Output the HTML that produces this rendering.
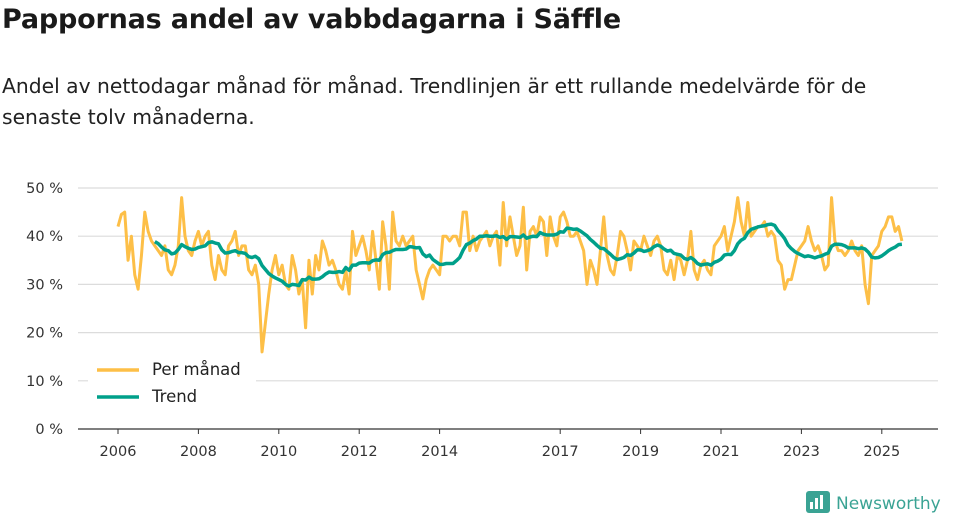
<!DOCTYPE html>
<html><head><meta charset="utf-8">
<style>
body{margin:0;background:#fff;width:960px;height:520px;overflow:hidden;font-family:"DejaVu Sans","Liberation Sans",sans-serif;color:#1a1a1a}
#title{position:absolute;left:2px;top:4px;font-size:27px;font-weight:bold;margin:0;letter-spacing:-0.2px}
#sub{position:absolute;left:2px;top:71px;font-size:20.3px;line-height:31px;width:935px;margin:0;color:#222}
svg{position:absolute;left:0;top:0}
svg text{font-family:"DejaVu Sans","Liberation Sans",sans-serif}
</style></head><body>
<h1 id="title">Pappornas andel av vabbdagarna i Säffle</h1>
<p id="sub">Andel av nettodagar månad för månad. Trendlinjen är ett rullande medelvärde för de senaste tolv månaderna.</p>
<svg id="chart" width="960" height="520"></svg>
<script>
const startYear = 2006;
const monthly = [
42,44.5,45,35,40,32,29,36,45,41,39,38,
37,36,38,33,32,34,38,48,40,37,36,39,
41,38,40,41,34,31,36,33,32,38,39,41,
36,38,38,33,32,34,30,16,22,28,33,36,
32,34,30,29,36,33,28,31,21,35,28,36,
33,39,37,34,35,33,30,29,33,28,41,36,
38,40,37,33,41,35,29,43,38,29,45,39,
38,40,38,39,40,33,30,27,31,33,34,33,
32,40,40,39,40,40,38,45,45,37,40,37,
39,40,41,38,40,41,34,47,38,44,40,36,
38,46,33,41,42,40,44,43,36,44,40,38,
44,45,43,40,40,41,39,37,30,35,33,30,
37,44,36,33,32,36,41,40,37,33,39,38,
37,40,38,36,39,40,38,33,32,35,31,36,
35,32,35,41,33,31,34,35,33,32,38,39,
40,42,37,40,43,48,43,40,47,40,41,42,
42,43,40,41,40,35,34,29,31,31,34,37,
38,39,42,39,37,38,36,33,34,48,39,37,
37,36,37,39,37,36,38,30,26,36,37,38,
41,42,44,44,41,42,39];
const yTicks = [0,10,20,30,40,50];
const xTickYears = [2006,2008,2010,2012,2014,2017,2019,2021,2023,2025];

const NS="http://www.w3.org/2000/svg";
const svg=document.getElementById('chart');
const X0=78,X1=938,Y0=429;
function xs(t){return 118+(t-2006)*40.2;}
function ys(v){return Y0-v*4.82;}
function mk(tag,attrs,parent){const e=document.createElementNS(NS,tag);for(const k in attrs)e.setAttribute(k,attrs[k]);(parent||svg).appendChild(e);return e;}

yTicks.forEach(v=>{
  if(v>0){const g=mk('line',{x1:X0,x2:X1,y1:ys(v),y2:ys(v),stroke:'#dcdcdc','stroke-width':1.2});
  
  }
  const t=mk('text',{x:63,y:ys(v)+5,'text-anchor':'end','font-size':14.5,fill:'#333'});
  t.textContent=v+' %';
  
  
});
const ax=mk('line',{x1:X0,x2:X1,y1:Y0,y2:Y0,stroke:'#333','stroke-width':1.2});


xTickYears.forEach(yr=>{
  mk('line',{x1:xs(yr),x2:xs(yr),y1:Y0,y2:Y0+5,stroke:'#333'});
  const t=mk('text',{x:xs(yr),y:456,'text-anchor':'middle','font-size':14.5,fill:'#333'});
  t.textContent=yr;
  
  
});
const pts=monthly.map((v,i)=>[xs(startYear+i/12),ys(v)]);
const ml=mk('polyline',{points:pts.map(p=>p.join(',')).join(' '),fill:'none',stroke:'#fdbf47','stroke-width':3,'stroke-linejoin':'round'});


const trend=[];
for(let i=11;i<monthly.length;i++){let s=0;for(let j=i-11;j<=i;j++)s+=monthly[j];trend.push([xs(startYear+i/12),ys(s/12)]);}
const tl=mk('polyline',{points:trend.map(p=>p.join(',')).join(' '),fill:'none',stroke:'#00a08a','stroke-width':3.5,'stroke-linejoin':'round'});



const lg=mk('g',{});


mk('rect',{x:88,y:354,width:168,height:58,fill:'#fff'},lg);
mk('line',{x1:97,x2:139,y1:370,y2:370,stroke:'#fdbf47','stroke-width':3.5},lg);
mk('line',{x1:97,x2:139,y1:397,y2:397,stroke:'#00a08a','stroke-width':3.5},lg);
const l1=mk('text',{x:152,y:375,'font-size':16.5,fill:'#222'},lg);l1.textContent='Per månad';


const l2=mk('text',{x:152,y:402,'font-size':16.5,fill:'#222'},lg);l2.textContent='Trend';



const logo=mk('g',{});


mk('rect',{x:806,y:491,width:24,height:22,rx:3,fill:'#3aa394'},logo);
mk('rect',{x:810,y:502,width:3,height:7,fill:'#fff'},logo);
mk('rect',{x:815,y:498,width:3,height:11,fill:'#fff'},logo);
mk('rect',{x:820,y:495,width:3,height:14,fill:'#fff'},logo);
const lt=mk('text',{x:836,y:509,'font-size':17,fill:'#3aa394'},logo);lt.textContent='Newsworthy';
</script>
</body></html>
